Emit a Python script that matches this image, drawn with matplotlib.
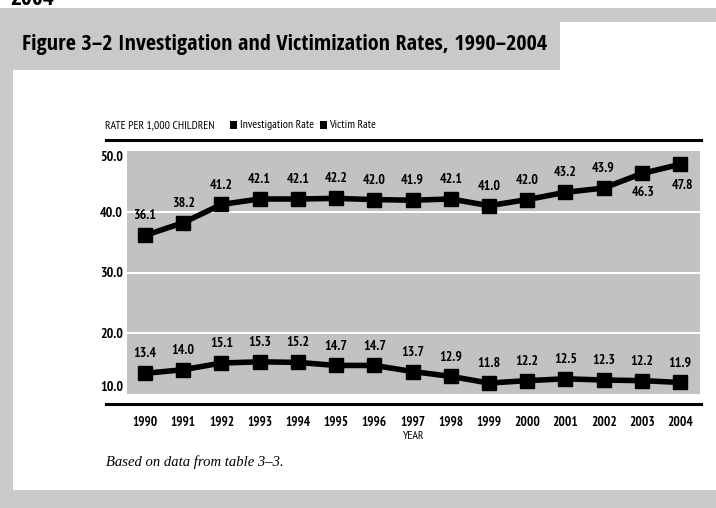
import numpy as np
import matplotlib
matplotlib.use("Agg")
import matplotlib.pyplot as plt
from matplotlib.patches import Rectangle
from matplotlib.lines import Line2D

# --- data ---
years = list(range(1990, 2005))
investigation_rate = [36.1, 38.2, 41.2, 42.1, 42.1, 42.2, 42.0, 41.9, 42.1, 41.0, 42.0, 43.2, 43.9, 46.3, 47.8]
victim_rate = [13.4, 14.0, 15.1, 15.3, 15.2, 14.7, 14.7, 13.7, 12.9, 11.8, 12.2, 12.5, 12.3, 12.2, 11.9]
y_ticks = [10.0, 20.0, 30.0, 40.0, 50.0]

W, H = 716, 508
PAGE_GRAY = "#c9c9c9"
PLOT_GRAY = "#c2c2c2"

NARROW = ["PT Sans Narrow", "DejaVu Sans"]
TITLE_FONT = ["Open Sans Condensed", "PT Sans Narrow", "DejaVu Sans"]

fig = plt.figure(figsize=(W / 100, H / 100), dpi=100, facecolor=PAGE_GRAY)


def box(x0, y0, x1, y1):
    # pixel box (top-left origin) -> figure fraction rect
    return (x0 / W, 1 - y1 / H, (x1 - x0) / W, (y1 - y0) / H)


def rect(x0, y0, x1, y1, color):
    l, b, w, h = box(x0, y0, x1, y1)
    fig.add_artist(Rectangle((l, b), w, h, transform=fig.transFigure,
                             facecolor=color, edgecolor="none", zorder=0))


def hline(x0, x1, y, lw):
    fig.add_artist(Line2D([x0 / W, x1 / W], [1 - y / H, 1 - y / H],
                          transform=fig.transFigure, color="black", lw=lw))


# page layout: white strip at top, white panel under the banner
rect(0, 0, W, 8, "white")
rect(560, 22, W, 72, "white")
rect(13, 70, W, 490, "white")

fig.text(10 / W, 1 - 5 / H, "2004", fontsize=17, fontweight="bold", va="baseline", ha="left", family=TITLE_FONT)

fig.text(22 / W, 1 - 50 / H, "Figure 3\u20132 Investigation and Victimization Rates, 1990\u20132004",
         fontsize=16, fontweight="bold", family=TITLE_FONT, ha="left", va="baseline")

# legend row
fig.text(105 / W, 1 - 125 / H, "RATE PER 1,000 CHILDREN", fontsize=8.5, va="center", ha="left", family=NARROW)
for sx, tx, lab in [(230, 240, "Investigation Rate"), (320, 329, "Victim Rate")]:
    rect(sx, 121, sx + 7, 129, "black")
    fig.text(tx / W, 1 - 125 / H, lab, fontsize=8.5, va="center", ha="left", family=NARROW)

hline(106, 701, 140, 2.2)
hline(106, 701, 404, 2.2)

# main axes
l, b, w, h = box(127, 151, 700, 394)
ax = fig.add_axes([l, b, w, h], facecolor=PLOT_GRAY)
ax.set_xlim(1989.53, 2004.52)
ax.set_ylim(10, 50)
for s in ax.spines.values():
    s.set_visible(False)
for g in [20, 30, 40]:
    ax.axhline(g, color="white", lw=1.4, zorder=1)

for series in [investigation_rate, victim_rate]:
    ax.plot(years, series, color="black", lw=4, marker="s", markersize=10.5,
            solid_joinstyle="round", zorder=3, clip_on=False)

for x, v in zip(years, investigation_rate):
    if x == 2003:
        off = (1, -14)
    elif x == 2004:
        off = (2, -15)
    else:
        off = (0, 14)
    ax.annotate(f"{v:.1f}", (x, v), xytext=off, textcoords="offset points",
                ha="center", va="center", fontsize=10, fontweight="bold", family=NARROW)
for x, v in zip(years, victim_rate):
    ax.annotate(f"{v:.1f}", (x, v), xytext=(0, 14), textcoords="offset points",
                ha="center", va="center", fontsize=10, fontweight="bold", family=NARROW)

ax.set_yticks(y_ticks)
ax.set_yticklabels([f"{t:.1f}" for t in y_ticks], fontsize=10, fontweight="bold", family=NARROW)
ytl = ax.get_yticklabels()
ytl[0].set_va("bottom")
ytl[-1].set_va("top")
ax.tick_params(axis="y", length=0, pad=3)

ax.set_xticks(years)
ax.set_xticklabels([str(y) for y in years], fontsize=9.5, fontweight="bold", family=NARROW)
ax.tick_params(axis="x", length=0, pad=16)
ax.set_xlabel("YEAR", fontsize=8.5, labelpad=1, family=NARROW)

fig.text(106 / W, 1 - 462 / H, "Based on data from table 3\u20133.", fontsize=10.5,
         style="italic", family="Liberation Serif", ha="left", va="center")

fig.savefig("out.png", dpi=100, facecolor=fig.get_facecolor())
